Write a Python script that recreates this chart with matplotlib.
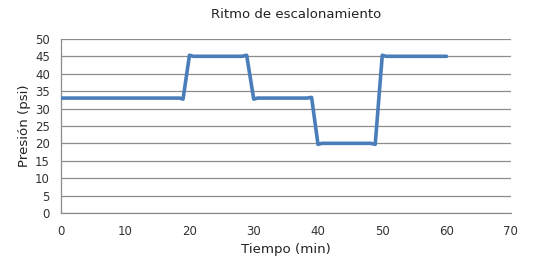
import matplotlib
matplotlib.use('Agg')
import matplotlib.pyplot as plt

# step test readings (min, psi), includes the small overshoot of the smoothed line
tiempo = [0, 18.5, 19.0, 20.0, 20.6, 28.2, 28.9, 30.0, 30.6, 38.3, 39.0, 40.0, 40.6, 48.2, 48.9, 50.0, 50.6, 60]
presion = [33, 33, 32.7, 45.3, 45, 45, 45.3, 32.7, 33, 33, 33.2, 19.7, 20, 20, 19.7, 45.3, 45, 45]

xticks = list(range(0, 71, 10))
yticks = list(range(0, 51, 5))

fig = plt.figure(figsize=(5.44, 2.61), dpi=100)
ax = fig.add_axes([0.112, 0.184, 0.827, 0.667])

ax.plot(tiempo, presion, color='#4A7EBB', linewidth=2.6, solid_joinstyle='round', solid_capstyle='round', zorder=3)

ax.set_xlim(0, 70)
ax.set_ylim(0, 50)
ax.set_xticks(xticks)
ax.set_yticks(yticks)
ax.tick_params(axis='both', length=0, labelsize=8.5, colors='#333333')
ax.tick_params(axis='x', pad=9)
ax.tick_params(axis='y', pad=8)
ax.yaxis.grid(True, color='#8c8c8c', linewidth=0.9)
ax.set_axisbelow(True)

for side in ['top', 'right']:
    ax.spines[side].set_visible(False)
for side in ['left', 'bottom']:
    ax.spines[side].set_color('#8c8c8c')
    ax.spines[side].set_linewidth(0.9)

ax.set_xlabel('Tiempo (min)', fontsize=9.6, color='#222222', labelpad=3)
ax.set_ylabel('Presión (psi)', fontsize=9.6, color='#222222', labelpad=3)
fig.text(0.545, 0.943, 'Ritmo de escalonamiento', ha='center', va='center', fontsize=9.5, color='#222222')

plt.savefig('out.png', dpi=100, facecolor='white')
